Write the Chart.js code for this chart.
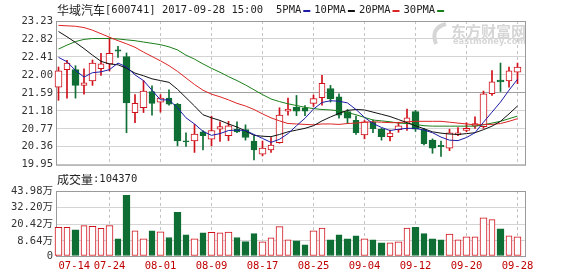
<!DOCTYPE html>
<html>
<head>
<meta charset="utf-8">
<script src="https://cdn.jsdelivr.net/npm/chart.js@4.4.1/dist/chart.umd.min.js"></script>
<style>
  html, body { margin: 0; padding: 0; background: #fff; }
  body { width: 578px; height: 276px; position: relative; overflow: hidden; }
  canvas { position: absolute; left: 0; }
  #kline { top: 0; }
  #vol { top: 174px; }
</style>
</head>
<body>
<canvas id="kline" width="578" height="174"></canvas>
<canvas id="vol" width="578" height="102"></canvas>
<script>
// 华域汽车 600741, daily bars 2017-07-14 .. 2017-09-28
const stockName = '华域汽车';
const stockInfo = '[600741] 2017-09-28 15:00';

const dates = ['07-14','07-17','07-18','07-19','07-20','07-21','07-24','07-25','07-26','07-27',
  '07-28','07-31','08-01','08-02','08-03','08-04','08-07','08-08','08-09','08-10',
  '08-11','08-14','08-15','08-16','08-17','08-18','08-21','08-22','08-23','08-24',
  '08-25','08-28','08-29','08-30','08-31','09-01','09-04','09-05','09-06','09-07',
  '09-08','09-11','09-12','09-13','09-14','09-15','09-18','09-19','09-20','09-21',
  '09-22','09-25','09-26','09-27','09-28'];

const opens = [21.72,22.12,22.12,21.76,21.86,22.14,22.25,22.57,22.42,21.14,
  21.25,21.62,21.38,21.47,21.33,20.49,20.49,20.70,20.53,20.76,
  20.61,20.76,20.75,20.49,20.19,20.29,20.45,21.17,21.26,21.25,
  21.35,21.48,21.69,21.50,21.16,20.96,20.63,20.93,20.76,20.59,
  20.75,20.89,21.16,20.75,20.51,20.39,20.33,20.63,20.73,20.83,
  20.82,21.57,21.88,21.86,22.06];
const highs = [22.18,22.33,22.21,22.14,22.34,22.49,22.85,22.65,22.50,21.55,
  21.87,21.75,21.55,21.66,21.35,20.68,20.87,20.73,21.06,20.93,
  20.94,20.93,20.86,20.61,20.49,20.57,21.25,21.47,21.53,21.30,
  21.54,21.99,21.76,21.57,21.21,21.06,20.96,20.97,20.78,20.74,
  20.92,21.22,21.19,20.78,20.54,20.49,20.76,20.80,20.91,21.04,
  21.63,22.10,22.27,22.18,22.27];
const lows = [21.42,21.47,21.47,21.56,21.76,21.99,22.09,22.40,20.68,20.91,
  21.14,21.08,21.15,21.31,20.38,20.37,20.23,20.29,20.38,20.48,
  20.50,20.68,20.51,20.06,20.15,20.23,20.44,21.08,21.07,21.07,
  21.28,21.31,21.38,21.01,20.89,20.64,20.54,20.68,20.51,20.49,
  20.69,20.73,20.71,20.40,20.21,20.14,20.27,20.61,20.70,20.78,
  20.78,21.53,21.62,21.72,21.80];
const closes = [22.09,22.27,21.76,21.82,22.27,22.25,22.49,22.54,21.36,21.35,
  21.63,21.35,21.47,21.33,20.49,20.47,20.65,20.61,20.73,20.82,
  20.84,20.70,20.57,20.29,20.33,20.40,21.08,21.22,21.17,21.17,
  21.46,21.81,21.46,21.08,21.01,20.68,20.93,20.77,20.59,20.67,
  20.84,21.02,20.76,20.43,20.33,20.36,20.68,20.68,20.78,20.89,
  21.57,21.84,21.84,22.09,22.18];

const ma5 = [22.40,22.30,22.10,21.95,22.05,22.07,22.12,22.27,22.18,22.00,
  21.87,21.65,21.43,21.43,21.25,21.02,20.88,20.71,20.62,20.66,
  20.73,20.74,20.73,20.64,20.55,20.46,20.53,20.66,20.84,21.01,
  21.22,21.37,21.41,21.40,21.36,21.21,21.03,20.89,20.80,20.73,
  20.76,20.78,20.78,20.74,20.68,20.58,20.51,20.50,20.57,20.68,
  20.92,21.15,21.38,21.65,21.90];
const ma10 = [22.99,22.87,22.74,22.60,22.45,22.31,22.25,22.23,22.15,22.04,
  21.98,21.91,21.87,21.83,21.67,21.48,21.29,21.09,21.02,20.96,
  20.88,20.81,20.72,20.62,20.60,20.59,20.64,20.70,20.74,20.78,
  20.84,20.95,21.04,21.12,21.19,21.21,21.20,21.15,21.10,21.05,
  20.98,20.91,20.84,20.77,20.70,20.67,20.65,20.64,20.66,20.68,
  20.75,20.83,20.94,21.11,21.29];
const ma20 = [23.13,23.12,23.11,23.08,23.02,22.94,22.86,22.78,22.71,22.63,
  22.52,22.42,22.32,22.21,22.08,21.93,21.78,21.65,21.56,21.50,
  21.43,21.35,21.29,21.21,21.11,21.02,20.95,20.89,20.88,20.87,
  20.86,20.88,20.88,20.87,20.89,20.90,20.92,20.93,20.92,20.91,
  20.91,20.93,20.94,20.94,20.94,20.94,20.92,20.90,20.88,20.86,
  20.87,20.87,20.89,20.94,21.00];
const ma30 = [22.59,22.68,22.76,22.81,22.83,22.83,22.83,22.82,22.80,22.78,
  22.75,22.72,22.69,22.64,22.57,22.45,22.36,22.25,22.15,22.06,
  21.96,21.87,21.77,21.66,21.55,21.45,21.39,21.34,21.30,21.26,
  21.23,21.21,21.20,21.18,21.14,21.09,21.03,20.97,20.95,20.93,
  20.90,20.89,20.87,20.84,20.83,20.83,20.83,20.83,20.83,20.83,
  20.86,20.90,20.94,21.00,21.06];

// volume, 万
const volumes = [18.2,18.2,16.5,19.4,18.9,17.5,19.4,10.1,40.9,15.8,
  10.1,15.8,15.1,11.0,28.9,12.9,10.1,14.4,14.6,14.4,
  14.9,11.0,8.1,13.7,7.9,10.8,18.7,9.4,8.6,5.8,
  15.8,17.7,9.4,12.9,10.1,12.2,10.1,9.4,7.2,7.2,
  7.9,17.7,18.2,13.7,10.1,9.4,13.4,9.4,11.5,11.5,
  24.9,23.7,17.2,12.2,11.5];
const lastVolume = '104370';

const priceTicks = [19.95,20.36,20.77,21.18,21.59,22.00,22.41,22.82,23.23];
const volTicks = [8.64,20.42,32.20,43.98];
const dateTickIdx = [0,6,12,18,24,30,36,42,48,54];
const maNames = ['5PMA','10PMA','20PMA','30PMA'];

// look
const UP = '#d0101a', DOWN = '#0f6e34';
const MA_COLORS = ['#1c1ca6', '#111111', '#dd2424', '#1a7f1a'];
const MONO = '"DejaVu Sans Mono", "Noto Sans CJK SC", monospace';
const X_MIN = -5 / 17, X_MAX = 55;   // 8.5px per day, first day at 58.5
const VOL_BASE = -2.11;

const isUp = closes.map((c, i) => c >= opens[i]);

// bars on even days sit on half pixels, odd days on whole pixels;
// split them so each gets a width that stays crisp
function splitByParity(make, widths, extra) {
  return [0, 1].map(p => Object.assign({
    data: [], backgroundColor: [], borderColor: [], barThickness: widths[p]
  }, extra)).map((ds, p) => {
    dates.forEach((d, i) => {
      if (i % 2 !== p) return;
      const m = make(i);
      ds.data.push(m.point);
      ds.backgroundColor.push(m.fill);
      ds.borderColor.push(m.line);
    });
    return ds;
  });
}

function frame(chart) {
  const {ctx, chartArea: a} = chart;
  ctx.save();
  ctx.strokeStyle = '#9a9a9a';
  ctx.lineWidth = 1;
  ctx.strokeRect(a.left + 0.5, a.top + 0.5, a.right - a.left - 1, a.bottom - a.top);
  ctx.restore();
}

const klinePlugin = {
  id: 'klineDecor',
  beforeDatasetsDraw(chart) {
    const ctx = chart.ctx;
    ctx.save();
    // watermark
    ctx.fillStyle = '#d6d6d6';
    ctx.strokeStyle = '#d6d6d6';
    ctx.lineWidth = 4;
    ctx.beginPath();
    ctx.moveTo(446, 24);
    ctx.quadraticCurveTo(430, 28, 436, 44);
    ctx.stroke();
    ctx.textBaseline = 'middle';
    ctx.font = 'bold 15px "Noto Sans CJK SC"';
    ctx.fillText('东方财富网', 451, 31, 75);
    ctx.font = 'bold 9px "DejaVu Sans"';
    ctx.fillText('eastmoney.com', 453, 42, 73);
    ctx.restore();
    frame(chart);
  },
  afterDraw(chart) {
    const ctx = chart.ctx;
    ctx.save();
    ctx.textBaseline = 'middle';
    ctx.fillStyle = '#222';
    ctx.font = '12px "Noto Sans CJK SC"';
    ctx.fillText(stockName, 57, 10);
    const w = ctx.measureText(stockName).width;
    ctx.font = '10.5px ' + MONO;
    ctx.fillText(stockInfo, 57 + w, 10);
    let x = 276;
    maNames.forEach((name, k) => {
      ctx.fillStyle = '#222';
      ctx.fillText(name, x, 10);
      x += ctx.measureText(name).width + 2;
      ctx.fillStyle = MA_COLORS[k];
      ctx.fillRect(x, 10, 7, 2);
      x += 11;
    });
    ctx.restore();
  }
};

const volPlugin = {
  id: 'volDecor',
  beforeDatasetsDraw(chart) { frame(chart); },
  afterDraw(chart) {
    const ctx = chart.ctx;
    ctx.save();
    ctx.textBaseline = 'middle';
    ctx.fillStyle = '#222';
    ctx.font = '12px "Noto Sans CJK SC"';
    ctx.fillText('成交量', 57, 5);
    const w = ctx.measureText('成交量').width;
    ctx.font = '10.5px ' + MONO;
    ctx.fillText(':' + lastVolume, 57 + w, 5);
    ctx.restore();
  }
};

const xScaleBase = {
  type: 'linear', bounds: 'data', min: X_MIN, max: X_MAX,
  offset: false,
  afterBuildTicks: s => { s.ticks = dateTickIdx.map(v => ({value: v})); },
  grid: { offset: false, drawTicks: false,
          color: c => (c.tick && c.tick.value === 0) ? 'rgba(0,0,0,0)' : '#c4c4c4' },
  border: { display: false, dash: [3, 3] }
};

const bodySets = splitByParity(i => ({
  point: {x: i, y: [opens[i], closes[i]]},
  fill: isUp[i] ? '#ffffff' : DOWN,
  line: isUp[i] ? UP : DOWN
}), [7, 6], { label: 'body', borderWidth: 1, borderSkipped: false, minBarLength: 1,
              grouped: false, order: 2, clip: false });

const wickSets = splitByParity(i => ({
  point: {x: i, y: [lows[i], highs[i]]},
  fill: isUp[i] ? UP : DOWN,
  line: isUp[i] ? UP : DOWN
}), [1, 1], { label: 'wick', borderWidth: 0, grouped: false, order: 3, clip: false });

const volSets = splitByParity(i => ({
  point: {x: i, y: volumes[i]},
  fill: isUp[i] ? '#ffffff' : DOWN,
  line: isUp[i] ? UP : DOWN
}), [7, 6], { label: '成交量', base: VOL_BASE, borderWidth: 1, borderSkipped: false,
              grouped: false, clip: false });

new Chart(document.getElementById('kline'), {
  type: 'bar',
  data: {
    datasets: [
      ...[ma5, ma10, ma20, ma30].map((arr, k) => ({
        type: 'line', label: maNames[k],
        data: arr.map((v, i) => ({x: i, y: v})),
        borderColor: MA_COLORS[k], borderWidth: 1, pointRadius: 0, tension: 0, order: 1
      })),
      ...bodySets,
      ...wickSets
    ]
  },
  options: {
    responsive: false, animation: false, devicePixelRatio: 1,
    layout: { padding: { top: 21, right: 52, bottom: 8, left: 0 } },
    plugins: { legend: { display: false }, tooltip: { enabled: false } },
    scales: {
      x: Object.assign({}, xScaleBase, {
        ticks: { display: false },
        afterFit: s => { s.height = 0; }
      }),
      y: {
        type: 'linear', bounds: 'data', min: 19.95, max: 23.23, beginAtZero: false,
        afterBuildTicks: s => { s.ticks = priceTicks.map(v => ({value: v})); },
        afterFit: s => { s.width = 56; },
        ticks: { callback: v => v.toFixed(2), color: '#333', padding: 3,
                 font: { family: MONO, size: 10.5 } },
        grid: { drawTicks: false,
                color: c => (c.tick && Math.abs(c.tick.value - 21.59) < 0.001) ? '#a0a0a0' : '#d4d4d4' },
        border: { display: false }
      }
    }
  },
  plugins: [klinePlugin]
});

new Chart(document.getElementById('vol'), {
  type: 'bar',
  data: { datasets: volSets },
  options: {
    responsive: false, animation: false, devicePixelRatio: 1,
    layout: { padding: { top: 17, right: 52, bottom: 0, left: 0 } },
    plugins: { legend: { display: false }, tooltip: { enabled: false } },
    scales: {
      x: Object.assign({}, xScaleBase, {
        ticks: {
          autoSkip: false, maxRotation: 0, minRotation: 0, padding: 4,
          color: '#c00000', font: { family: MONO, size: 10.5 },
          callback: v => {
            const k = dateTickIdx.indexOf(v);
            if (k < 0) return '';
            return k === 0 ? '     ' + dates[v] : dates[v];
          }
        },
        afterFit: s => { s.height = 20; }
      }),
      y: {
        type: 'linear', bounds: 'data', min: VOL_BASE, max: 43.98, beginAtZero: false,
        afterBuildTicks: s => { s.ticks = [VOL_BASE, ...volTicks].map(v => ({value: v})); },
        afterFit: s => { s.width = 56; },
        ticks: { callback: v => v === VOL_BASE ? '0' : v.toFixed(2) + '万',
                 color: '#333', padding: 3, font: { family: MONO, size: 10.5 } },
        grid: { drawTicks: false, color: '#d4d4d4' },
        border: { display: false }
      }
    }
  },
  plugins: [volPlugin]
});
</script>
</body>
</html>
